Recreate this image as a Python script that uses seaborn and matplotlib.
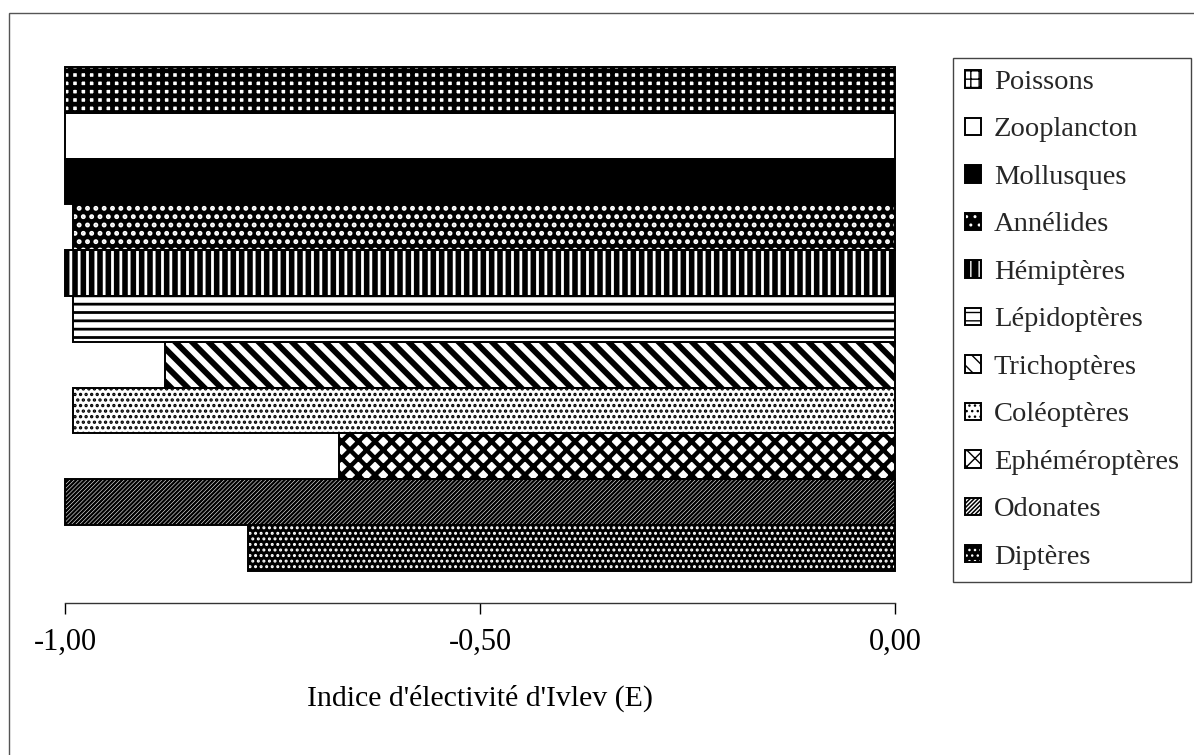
import matplotlib
matplotlib.use("Agg")
import matplotlib.pyplot as plt
from matplotlib.patches import Rectangle
from matplotlib.ticker import FuncFormatter
import seaborn as sns
import pandas as pd

# Prey groups, top to bottom, and their Ivlev electivity index (E)
groupes = ["Poissons", "Zooplancton", "Mollusques", "Annélides", "Hémiptères",
           "Lépidoptères", "Trichoptères", "Coléoptères", "Ephéméroptères",
           "Odonates", "Diptères"]
indice_E = [-1.00, -1.00, -1.00, -0.99, -1.00, -0.99, -0.88, -0.99, -0.67, -1.00, -0.78]
graduations = [-1.0, -0.5, 0.0]
titre_x = "Indice d'électivité d'Ivlev (E)"

# Fill pattern per group: (face colour, hatch, hatch colour, hatch line width)
motifs = {
    "Poissons":       ("white", "++",       "black", 3.4),
    "Zooplancton":    ("white", "",         "white", 1.0),
    "Mollusques":     ("black", "",         "black", 1.0),
    "Annélides":      ("black", "..",       "white", 2.3),
    "Hémiptères":     ("black", "||",       "white", 2.0),
    "Lépidoptères":   ("white", "--",       "black", 2.0),
    "Trichoptères":   ("white", "\\\\",     "black", 4.2),
    "Coléoptères":    ("white", "...",      "black", 1.6),
    "Ephéméroptères": ("white", "xx",       "black", 3.2),
    "Odonates":       ("black", "////////", "white", 0.4),
    "Diptères":       ("black", "...",      "white", 1.4),
}

sns.set_theme(style="white")
plt.rcParams["font.family"] = ["Liberation Serif", "DejaVu Serif"]

W, H = 1194, 755
fig = plt.figure(figsize=(W / 100, H / 100), dpi=100)
ax = fig.add_axes([65 / W, (H - 603) / H, (895 - 65) / W, (603 - 67) / H])

df = pd.DataFrame({"groupe": groupes, "E": indice_E})

# Patterned bars
sns.barplot(data=df, x="E", y="groupe", orient="h", width=1.0, ax=ax,
            color="white", saturation=1, errorbar=None, linewidth=0)
bars = list(ax.patches)


def habiller(p, face, hatch, hcol, hlw):
    p.set_facecolor(face)
    p.set_edgecolor(hcol)
    p.set_linewidth(0)
    p.set_hatch(hatch if hatch else None)
    if hasattr(p, "set_hatch_linewidth"):
        p.set_hatch_linewidth(hlw)


for p, g in zip(bars, groupes):
    habiller(p, *motifs[g])
    p.set_clip_on(False)

# Black outlines on top
sns.barplot(data=df, x="E", y="groupe", orient="h", width=1.0, ax=ax,
            fill=False, color="black", errorbar=None, linewidth=1.4)
for p in ax.patches[len(bars):]:
    p.set_clip_on(False)

ax.set_xlim(-1.0, 0.0)
ax.set_ylim(11.2, -0.5)
ax.set_yticks([])
ax.set_ylabel("")
ax.set_xticks(graduations)
ax.xaxis.set_major_formatter(FuncFormatter(lambda v, _: f"{v:.2f}".replace(".", ",")))
ax.tick_params(axis="x", bottom=True, direction="out", length=8, width=1,
               color="black", pad=10, labelsize=22, labelcolor="black")
ax.set_xlabel(titre_x, fontsize=21.5, labelpad=20, color="black")
for s in ["left", "top", "right"]:
    ax.spines[s].set_visible(False)
ax.spines["bottom"].set_color("#333333")
ax.spines["bottom"].set_linewidth(1.0)

# Legend with the same fills
poignees = []
for g in groupes:
    face, hatch, hcol, hlw = motifs[g]
    r = Rectangle((0, 0), 1, 1)
    habiller(r, face, hatch, hcol, hlw)
    contour = Rectangle((0, 0), 1, 1, fill=False, edgecolor="black", linewidth=1.4)
    poignees.append((r, contour))

leg = ax.legend(poignees, groupes, loc="upper left",
                bbox_to_anchor=(953 / W, 1 - 58 / H), bbox_transform=fig.transFigure,
                fontsize=20.5, frameon=True, fancybox=False, shadow=False,
                edgecolor="#444444", framealpha=1, borderaxespad=0,
                handlelength=0.56, handleheight=0.56, handletextpad=0.45,
                labelspacing=0.79, borderpad=0.42)
leg.get_frame().set_linewidth(1.0)

# Outer chart frame
fig.add_artist(Rectangle((9 / W, -0.05), 1.2, 1 - 13 / H + 0.05,
                         transform=fig.transFigure, fill=False,
                         edgecolor="#555555", linewidth=1.0))

fig.savefig("out.png", dpi=100)
